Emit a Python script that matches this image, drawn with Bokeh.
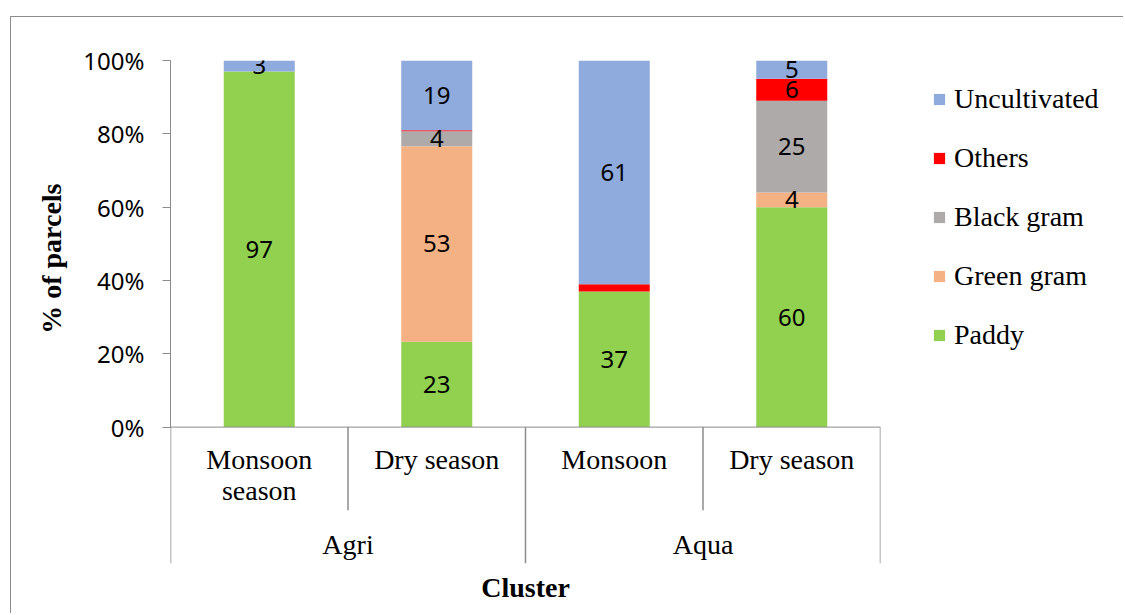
from bokeh.plotting import figure
from bokeh.layouts import row
from bokeh.models import (FactorRange, ColumnDataSource, Range1d, Title,
                          FixedTicker, Span, Legend, LegendItem)
from bokeh.core.properties import value
from bokeh.embed import file_html
from bokeh.resources import INLINE

# ---------------- data ----------------
clusters = ["Agri", "Agri", "Aqua", "Aqua"]
seasons = ["Monsoon season", "Dry season", "Monsoon", "Dry season"]
season_labels = ["Monsoon\nseason", "Dry season", "Monsoon", "Dry season"]
group_names = ["Agri", "Aqua"]

crops = ["Paddy", "Green gram", "Black gram", "Others", "Uncultivated"]
paddy = [97, 23.3, 37, 60]
green_gram = [0, 53.3, 0, 4]
black_gram = [0, 4.1, 0, 25]
others = [0, 0.3, 2, 6]
uncultivated = [3, 19.0, 61, 5]

paddy_lbl = ["97", "23", "37", "60"]
green_gram_lbl = ["", "53", "", "4"]
black_gram_lbl = ["", "4", "", "25"]
others_lbl = ["", "", "", "6"]
uncultivated_lbl = ["3", "19", "61", "5"]

y_ticks = [0, 20, 40, 60, 80, 100]
y_tick_labels = ["0%", "20%", "40%", "60%", "80%", "100%"]

colors = ["#92D050", "#F4B183", "#AEAAAA", "#FF0000", "#8FAADC"]
AXIS_GRAY = "#8c8c8c"
SERIF = "Liberation Serif"
SANS = "Noto Sans"

# ---------------- main chart ----------------
factors = list(zip(clusters, seasons))
x_range = FactorRange(factors=factors, factor_padding=0, group_padding=0,
                      subgroup_padding=0, range_padding=0)

p = figure(x_range=x_range, y_range=Range1d(-37.2, 100),
           width=870, height=596, output_backend="svg",
           toolbar_location=None, x_axis_location=None,
           min_border_left=159, min_border_right=1,
           min_border_top=43, min_border_bottom=50)
p.outline_line_color = None
p.xgrid.visible = False
p.ygrid.visible = False
p.background_fill_color = "white"
p.border_fill_color = "white"

series = [paddy, green_gram, black_gram, others, uncultivated]
series_lbl = [paddy_lbl, green_gram_lbl, black_gram_lbl, others_lbl, uncultivated_lbl]
data = {"x": factors}
for name, vals in zip(crops, series):
    data[name] = vals
src = ColumnDataSource(data)

rends = p.vbar_stack(crops, x="x", width=0.4, source=src, color=colors,
                     line_color=None)

# data labels centred in each segment
lx, ly, lt = [], [], []
base = [0.0] * len(factors)
for vals, lbls in zip(series, series_lbl):
    for i, (v, t) in enumerate(zip(vals, lbls)):
        if t:
            lx.append(factors[i])
            ly.append(base[i] + v / 2)
            lt.append(t)
        base[i] += v
p.text(x=lx, y=ly, text=lt, text_font=value(SANS), text_font_size="24px",
       text_align="center", text_baseline="middle", text_color="black")

# x axis line and category separators
p.add_layout(Span(location=0, dimension="width", line_color=AXIS_GRAY, line_width=1))
sep_x = [(clusters[0], seasons[0], -0.5), (clusters[1], seasons[1], -0.5),
         (clusters[2], seasons[2], -0.5), (clusters[3], seasons[3], -0.5),
         (clusters[3], seasons[3], 0.5)]
sep_bottom = [-37.2, -22.7, -37.2, -22.7, -37.2]
p.segment(x0=sep_x, x1=sep_x, y0=[0] * 5, y1=sep_bottom,
          line_color=AXIS_GRAY, line_width=1.5)

# category labels
p.text(x=factors, y=[0] * 4, text=season_labels, text_font=value(SERIF),
       text_font_size="28px", text_align="center", text_baseline="top",
       y_offset=17, text_line_height=1.0, text_color="black")
grp_x = [(clusters[0], seasons[0], 0.5), (clusters[2], seasons[2], 0.5)]
p.text(x=grp_x, y=[0, 0], text=group_names, text_font=value(SERIF),
       text_font_size="28px", text_align="center", text_baseline="top",
       y_offset=102, text_color="black")

# y axis
ya = p.yaxis[0]
ya.bounds = (0, 100)
ya.ticker = FixedTicker(ticks=y_ticks)
ya.major_label_overrides = {t: l for t, l in zip(y_ticks, y_tick_labels)}
ya.minor_tick_line_color = None
ya.major_tick_in = 0
ya.major_tick_out = 8
ya.major_tick_line_color = AXIS_GRAY
ya.axis_line_color = AXIS_GRAY
ya.major_label_standoff = 18
ya.major_label_text_font = SANS
ya.major_label_text_font_size = "24px"
ya.major_label_text_color = "black"

# y axis title (placed along the 0-100% part of the axis)
p.add_layout(Title(text="% of parcels", align="right", offset=123,
                   text_font=SERIF, text_font_style="bold",
                   text_font_size="28px", text_color="black",
                   standoff=27), "left")

# x axis title
p.add_layout(Title(text="Cluster", align="center", text_font=SERIF,
                   text_font_style="bold", text_font_size="28px",
                   text_color="black", standoff=13), "below")

# ---------------- legend panel ----------------
q = figure(width=242, height=596, output_backend="svg", toolbar_location=None,
           x_range=Range1d(0, 1), y_range=Range1d(0, 1),
           x_axis_location=None, y_axis_location=None, min_border=0)
q.outline_line_color = None
q.xgrid.visible = False
q.ygrid.visible = False
q.background_fill_color = "white"
q.border_fill_color = "white"
# zero-height key glyphs (only used for the legend swatches)
keys = [q.vbar(x=[-5], top=[0], bottom=[0], width=0.4, color=c, line_color=None)
        for c in colors]

items = [LegendItem(label=c, renderers=[r]) for c, r in zip(crops, keys)][::-1]
legend = Legend(items=items, location=(51, 212), orientation="vertical",
                glyph_width=14, glyph_height=14, label_height=30,
                spacing=27, padding=0, margin=0, label_standoff=8,
                label_text_font=SERIF, label_text_font_size="28px",
                label_text_color="black", border_line_color=None,
                background_fill_alpha=0)
q.add_layout(legend)

layout = row(p, q, spacing=0)
layout.margin = (16, 0, 0, 10)
layout.styles = {"border-top": "1px solid #8c8c8c",
                 "border-left": "1px solid #8c8c8c"}

open("out.html", "w").write(file_html(layout, INLINE))
